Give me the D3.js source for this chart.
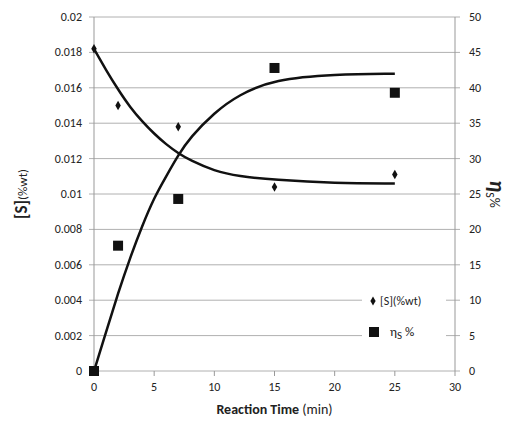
<!DOCTYPE html><html><head><script src="https://d3js.org/d3.v7.min.js"></script>
<style>body{margin:0;background:#fff}text{font-family:Calibri,Carlito,"Liberation Sans",Arial,sans-serif}</style></head><body><svg width="512" height="433"></svg><script>
const times=[0,2,7,15,25];
const sVals=[0.0182,0.015,0.0138,0.0104,0.0111];
const etaVals=[0,17.7,24.3,42.8,39.3];
const sCurveT=[0,1,2,3,4,5,6,7,8,10,12,15,20,25];
const sCurve=[0.0182,0.0170,0.0159,0.0149,0.0141,0.0134,0.0128,0.0123,0.0119,0.0113,0.0110,0.0108,0.0106,0.0106];
const etaCurve=[0,5.5,11,16,20.5,24.5,27.5,30.5,33,36.5,39,41.2,41.9,42];
const xTicks=[0,5,10,15,20,25,30];
const yTicks=[0,0.002,0.004,0.006,0.008,0.01,0.012,0.014,0.016,0.018,0.02];
const y2Ticks=[0,5,10,15,20,25,30,35,40,45,50];
const svg=d3.select("svg");
const L=94,R=455,T=17,B=371;
const x=d3.scaleLinear().domain([0,30]).range([L,R]);
const y=d3.scaleLinear().domain([0,0.02]).range([B,T]);
const y2=d3.scaleLinear().domain([0,50]).range([B,T]);
svg.append("g").selectAll("line").data(yTicks).join("line").attr("x1",L-5).attr("x2",R+5).attr("y1",d=>y(d)).attr("y2",d=>y(d)).attr("stroke","#b0b0b0");
svg.append("line").attr("x1",L).attr("x2",L).attr("y1",T).attr("y2",B).attr("stroke","#999");
svg.append("line").attr("x1",R).attr("x2",R).attr("y1",T).attr("y2",B).attr("stroke","#999");
svg.append("g").selectAll("line").data(xTicks).join("line").attr("x1",d=>x(d)).attr("x2",d=>x(d)).attr("y1",B).attr("y2",B+5).attr("stroke","#999");
svg.append("g").selectAll("text").data(yTicks).join("text").attr("x",L-12).attr("y",d=>y(d)+4).attr("text-anchor","end").attr("font-size",12).attr("fill","#222").text(d=>d);
svg.append("g").selectAll("text").data(y2Ticks).join("text").attr("x",R+14).attr("y",d=>y2(d)+4).attr("font-size",12).attr("fill","#222").text(d=>d);
svg.append("g").selectAll("text").data(xTicks).join("text").attr("x",d=>x(d)).attr("y",B+20).attr("text-anchor","middle").attr("font-size",12).attr("fill","#222").text(d=>d);
const xt=svg.append("text").attr("x",(L+R)/2).attr("y",B+43).attr("text-anchor","middle").attr("font-size",14).attr("fill","#222");
xt.append("tspan").attr("font-weight","bold").text("Reaction Time ");xt.append("tspan").text("(min)");
const yt=svg.append("text").attr("transform",`translate(27,${(T+B)/2}) rotate(-90)`).attr("text-anchor","middle").attr("fill","#222");
yt.append("tspan").attr("font-weight","bold").attr("font-size",17).text("[S]");yt.append("tspan").attr("font-size",13).text("(%wt)");
const rt=svg.append("text").attr("transform",`translate(490,${(T+B)/2}) rotate(90)`).attr("text-anchor","middle").attr("fill","#222");
rt.append("tspan").attr("font-weight","bold").attr("font-style","italic").attr("font-size",22).text("η");rt.append("tspan").attr("font-size",12).attr("dy",4).text("S");rt.append("tspan").attr("font-size",14).attr("dy",-4).text("%");
const line=d3.line().curve(d3.curveBasis);
svg.append("path").attr("d",line(sCurveT.map((t,i)=>[x(t),y(sCurve[i])]))).attr("fill","none").attr("stroke","#111").attr("stroke-width",2.5);
svg.append("path").attr("d",line(sCurveT.map((t,i)=>[x(t),y2(etaCurve[i])]))).attr("fill","none").attr("stroke","#111").attr("stroke-width",2.5);
svg.append("g").selectAll("path").data(times).join("path").attr("transform",(d,i)=>`translate(${x(d)},${y(sVals[i])})`).attr("d",d3.symbol(d3.symbolDiamond,26)).attr("fill","#111");
svg.append("g").selectAll("rect").data(times).join("rect").attr("x",(d)=>x(d)-5).attr("y",(d,i)=>y2(etaVals[i])-5).attr("width",10).attr("height",10).attr("fill","#111");
const lg=svg.append("g");
lg.append("rect").attr("x",362).attr("y",292).attr("width",84).attr("height",62).attr("fill","#fff");
lg.append("path").attr("transform","translate(373,301)").attr("d",d3.symbol(d3.symbolDiamond,24)).attr("fill","#111");
lg.append("text").attr("x",380).attr("y",305).attr("font-size",12).attr("fill","#222").text("[S](%wt)");
lg.append("rect").attr("x",369).attr("y",327).attr("width",10).attr("height",10).attr("fill","#111");
const l2=lg.append("text").attr("x",390).attr("y",336).attr("font-size",13).attr("fill","#222");
l2.append("tspan").text("η");l2.append("tspan").attr("font-size",11).attr("dy",3).text("S");l2.append("tspan").attr("dy",-3).text(" %");
</script></body></html>
